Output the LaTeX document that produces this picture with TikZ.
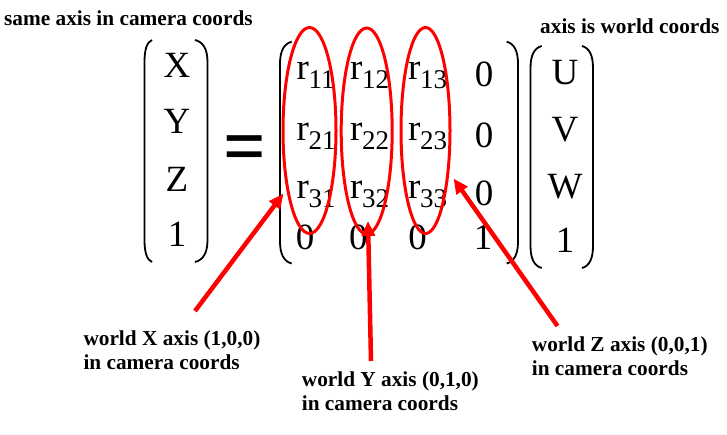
\documentclass[tikz,border=0pt]{standalone}
\usepackage{fontspec}
\setmainfont{Liberation Serif}
\usetikzlibrary{arrows.meta,shapes.geometric}
\definecolor{axred}{RGB}{255,0,0}
\newcommand\subr[1]{r\kern-0.5pt\raisebox{-9pt}{\fontsize{27}{27}\selectfont #1}}
\newcommand\drawparen[4]{%
  \draw[par] (#1,#3) .. controls ({#2+0.35*(#1-#2)},{#3+2}) and (#2,{#3+9}) .. (#2,{#3+22})
    -- (#2,{#4-22}) .. controls (#2,{#4-9}) and ({#2+0.35*(#1-#2)},{#4-2}) .. (#1,#4);}
\begin{document}
\begin{tikzpicture}[x=1pt,y=-1pt,
  ent/.style={font=\fontsize{37}{40}\selectfont, inner sep=0pt, anchor=base},
  rent/.style={font=\fontsize{37}{40}\selectfont, inner sep=0pt, anchor=base west},
  lbl/.style={font=\fontsize{21.3}{24}\selectfont\bfseries, inner sep=0pt, anchor=base west},
  par/.style={draw=black, line width=1.8pt},
  ring/.style={draw=axred, line width=3pt, ellipse, inner sep=0pt},
  pointer/.style={draw=axred, line width=4.5pt, -{Triangle[length=15pt,width=13pt]}}
]
\fill[white] (0,0) rectangle (727,435);
\useasboundingbox (0,0) rectangle (727,435);

% headers
\node[lbl] (top1) at (4,26) {same axis in camera coords};
\node[lbl] (top2) at (540,33.3) {axis is world coords};

% left vector
\node[ent] (vX) at (177,77.3) {X};
\node[ent] (vY) at (177,134) {Y};
\node[ent] (vZ) at (177,191.7) {Z};
\node[ent] (v1) at (177,246.7) {1};
\drawparen{152}{144.5}{40}{262}
\drawparen{195}{207.5}{40}{262}

% equals
\node[inner sep=0pt] (eq) at (245,155) {\scalebox{1.25}[1.35]{\fontsize{60}{60}\selectfont\bfseries =}};

% matrix
\node[rent] (m11) at (296.5,79.5) {\subr{11}};
\node[rent] (m12) at (350,79.5) {\subr{12}};
\node[rent] (m13) at (408,79.5) {\subr{13}};
\node[ent] (m14) at (484,87) {0};
\node[rent] (m21) at (296.5,140.5) {\subr{21}};
\node[rent] (m22) at (350,140.5) {\subr{22}};
\node[rent] (m23) at (408,140.5) {\subr{23}};
\node[ent] (m24) at (484,148) {0};
\node[rent] (m31) at (296.5,198.5) {\subr{31}};
\node[rent] (m32) at (350,198.5) {\subr{32}};
\node[rent] (m33) at (408,198.5) {\subr{33}};
\node[ent] (m34) at (484,206) {0};
\node[ent] (m41) at (305,250) {0};
\node[ent] (m42) at (358.3,250) {0};
\node[ent] (m43) at (417.5,250) {0};
\node[ent] (m44) at (483,250) {1};
\drawparen{291.7}{280}{41.7}{263.5}
\drawparen{506.7}{518}{41.7}{263.5}

% right vector
\node[ent] (wU) at (565,85) {U};
\node[ent] (wV) at (565,141.7) {V};
\node[ent] (wW) at (565,198.3) {W};
\node[ent] (w1) at (565,253) {1};
\drawparen{541.7}{530.5}{46}{268}
\drawparen{582}{593}{46}{268}

% column rings
\node[ring, minimum width=53pt, minimum height=206pt] (c1) at (309.5,130.5) {};
\node[ring, minimum width=51pt, minimum height=206pt] (c2) at (366.7,131) {};
\node[ring, minimum width=49pt, minimum height=206pt] (c3) at (425.5,130.5) {};

% labels
\node[lbl] (xl1) at (83.3,345.5) {world X axis (1,0,0)};
\node[lbl] (xl2) at (83.3,369.5) {in camera coords};
\node[lbl] (yl1) at (301.7,386) {world Y axis (0,1,0)};
\node[lbl] (yl2) at (301.7,410) {in camera coords};
\node[lbl] (zl1) at (531.7,351) {world Z axis (0,0,1)};
\node[lbl] (zl2) at (531.7,375) {in camera coords};

% arrows
\coordinate (tX) at (195,311);
\coordinate (hX) at (283.5,193.5);
\coordinate (tY) at (371,361);
\coordinate (hY) at (368,221);
\coordinate (tZ) at (557.5,326);
\coordinate (hZ) at (453.5,178.5);
\draw[pointer] (tX) -- (hX);
\draw[pointer] (tY) -- (hY);
\draw[pointer] (tZ) -- (hZ);
\end{tikzpicture}
\end{document}
